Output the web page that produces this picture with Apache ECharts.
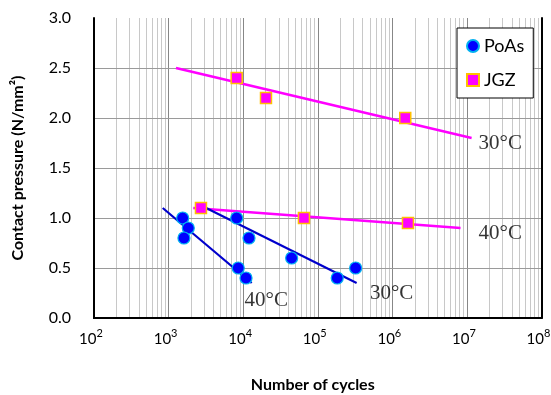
<!DOCTYPE html>
<html><head><meta charset="utf-8">
<script src="https://cdn.jsdelivr.net/npm/echarts@6/dist/echarts.min.js"></script>
<style>html,body{margin:0;padding:0;background:#fff}#c{width:551px;height:395px}</style>
</head><body><div id="c"></div>
<script>
// ---- data ----
const xTicks = [100, 1e3, 1e4, 1e5, 1e6, 1e7, 1e8];
const yTicks = [0, 0.5, 1.0, 1.5, 2.0, 2.5, 3.0];
const poasCycles   = [1545, 1837, 1607, 8185, 11970, 8590, 10920, 44670, 182400, 322000];
const poasPressure = [1.0, 0.9, 0.8, 1.0, 0.8, 0.5, 0.4, 0.6, 0.4, 0.5];
const jgzCycles    = [2717, 65300, 1620000, 8185, 20230, 1490000];
const jgzPressure  = [1.1, 1.0, 0.95, 2.4, 2.2, 2.0];
const jgz30Trend  = [[1256, 2.50], [11560000, 1.80]];
const jgz40Trend  = [[2143, 1.10], [8200000, 0.90]];
const poas40Trend = [[834, 1.10], [13000, 0.35]];
const poas30Trend = [[3000, 1.11], [332000, 0.35]];
const annoText     = ['30°C', '40°C', '40°C', '30°C'];
const annoCycles   = [2.8e7, 2.8e7, 2.04e4, 9.8e5];
const annoPressure = [1.75, 0.85, 0.18, 0.25];
const minorMultipliers = [2, 3, 4, 5, 6, 7, 8, 9];

// ---- build ----
const zip = (a, b) => a.map((v, i) => [v, b[i]]);
const gridLines = [];
xTicks.slice(0, -1).forEach(d => minorMultipliers.forEach(m => gridLines.push({xAxis: m * d, lineStyle: {color: '#c8c8c8', width: 1, type: 'solid'}})));
xTicks.slice(1, -1).forEach(d => gridLines.push({xAxis: d, lineStyle: {color: '#878787', width: 1, type: 'solid'}}));
yTicks.slice(1, -1).forEach(v => gridLines.push({yAxis: v, lineStyle: {color: '#9a9a9a', width: 1, type: 'solid'}}));

const frameLine = {show: true, lineStyle: {color: '#000', width: 2}};
const chart = echarts.init(document.getElementById('c'), null, {renderer: 'canvas'});
chart.setOption({
  animation: false,
  backgroundColor: '#fff',
  grid: {left: 94, right: 9.5, top: 18, bottom: 77, outerBoundsMode: 'none', containLabel: false},
  legend: {
    data: ['PoAs', 'JGZ'], orient: 'vertical', left: 457, top: 28, z: 6,
    padding: [9, 9, 9, 9], itemGap: 16, itemWidth: 12, itemHeight: 12,
    textStyle: {fontFamily: 'Lato', fontSize: 18, color: '#000', lineHeight: 18},
    backgroundColor: '#fff', borderColor: '#000', borderWidth: 1, selectedMode: false
  },
  xAxis: [{
    type: 'log', logBase: 10, min: 100, max: 1e8, position: 'bottom', z: 3,
    axisLine: frameLine, axisTick: {show: false}, splitLine: {show: false},
    axisLabel: {
      margin: 14, color: '#000',
      formatter: v => '{b|10}{s|' + Math.round(Math.log10(v)) + '}',
      rich: {
        b: {fontFamily: 'Lato', fontSize: 15, color: '#000', lineHeight: 15, verticalAlign: 'bottom'},
        s: {fontFamily: 'Lato', fontSize: 11, color: '#000', lineHeight: 11, verticalAlign: 'bottom', padding: [0, 6, 8, 0]}
      }
    },
    name: 'Number of cycles', nameLocation: 'middle', nameGap: 59,
    nameTextStyle: {fontFamily: 'Lato', fontWeight: 'bold', fontSize: 16, color: '#000', padding: [0, 10, 0, 0]}
  }, {
    type: 'log', logBase: 10, min: 100, max: 1e8, position: 'top', z: 3,
    axisLine: frameLine, axisTick: {show: false}, axisLabel: {show: false}, splitLine: {show: false}
  }],
  yAxis: [{
    type: 'value', min: 0, max: 3, interval: 0.5, z: 3,
    axisLine: frameLine, axisTick: {show: false}, splitLine: {show: false},
    axisLabel: {formatter: v => v.toFixed(1), fontFamily: 'Lato', fontSize: 16, color: '#000', margin: 23},
    name: 'Contact pressure (N/mm²)', nameLocation: 'middle', nameGap: 68,
    nameTextStyle: {fontFamily: 'Lato', fontWeight: 'bold', fontSize: 16, color: '#000'}
  }, {
    type: 'value', min: 0, max: 3, interval: 0.5, position: 'right', z: 3,
    axisLine: frameLine, axisTick: {show: false}, axisLabel: {show: false}, splitLine: {show: false}
  }],
  series: [
    {name: 'grid', type: 'line', data: [], z: 1, silent: true,
     markLine: {z: 1, silent: true, symbol: ['none', 'none'], label: {show: false}, animation: false, data: gridLines}},
    {name: 'jgz30', type: 'line', data: jgz30Trend, z: 2, showSymbol: false, symbol: 'none', silent: true, lineStyle: {color: '#ff00ff', width: 2.5}},
    {name: 'jgz40', type: 'line', data: jgz40Trend, z: 2, showSymbol: false, symbol: 'none', silent: true, lineStyle: {color: '#ff00ff', width: 2.5}},
    {name: 'poas40', type: 'line', data: poas40Trend, z: 2, showSymbol: false, symbol: 'none', silent: true, lineStyle: {color: '#0000cc', width: 2.2}},
    {name: 'poas30', type: 'line', data: poas30Trend, z: 2, showSymbol: false, symbol: 'none', silent: true, lineStyle: {color: '#0000cc', width: 2.2}},
    {name: 'PoAs', type: 'scatter', z: 2, symbol: 'circle', symbolSize: 12, data: zip(poasCycles, poasPressure),
     itemStyle: {color: '#0000ff', borderColor: '#00b0f0', borderWidth: 1.2, opacity: 1}},
    {name: 'JGZ', type: 'scatter', z: 2, symbol: 'rect', symbolSize: 11, data: zip(jgzCycles, jgzPressure),
     itemStyle: {color: '#ff00ff', borderColor: '#ffc000', borderWidth: 1.5, opacity: 1}},
    {name: 'anno', type: 'scatter', z: 2, symbolSize: 1, silent: true,
     data: annoText.map((t, i) => [annoCycles[i], annoPressure[i], t]),
     itemStyle: {color: 'rgba(0,0,0,0)'},
     label: {show: true, position: 'inside', formatter: p => p.value[2], fontFamily: 'Liberation Serif', fontSize: 21, color: '#000'}}
  ]
});
</script></body></html>
